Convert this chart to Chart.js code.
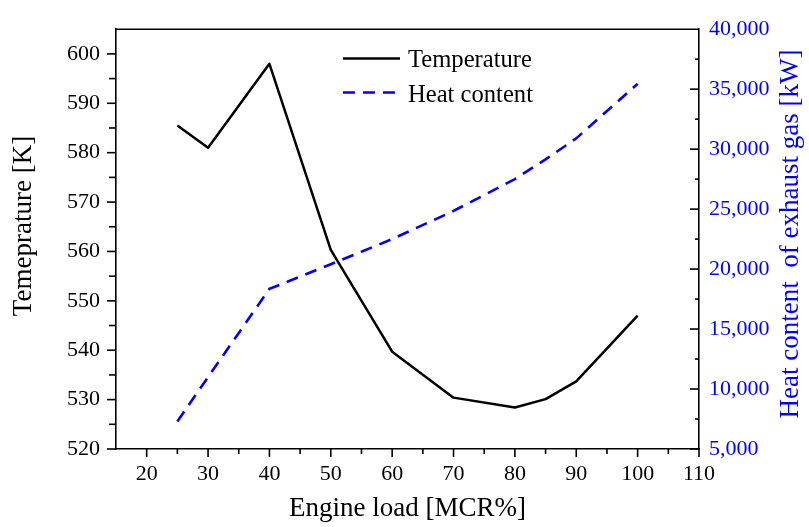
<!DOCTYPE html>
<html>
<head>
<meta charset="utf-8">
<title>Engine load vs exhaust gas</title>
<script src="https://cdn.jsdelivr.net/npm/chart.js@4.4.1/dist/chart.umd.min.js"></script>
<style>
  html, body { margin: 0; padding: 0; background: #fff; }
  #wrap { width: 809px; height: 527px; }
</style>
</head>
<body>
<div id="wrap"><canvas id="chartExhaust" width="809" height="527"></canvas></div>
<script>
/* Exhaust gas temperature and heat content over engine load */

const SERIF = "'Liberation Serif', 'Times New Roman', serif";
const BLUE  = '#0000ff';

// engine load [MCR%]
const loads       = [25, 30, 40, 50, 60, 70, 80, 85, 90, 100];
// exhaust temperature [K]
const temperature = [585.5, 581.0, 598.0, 560.3, 539.7, 530.4, 528.4, 530.1, 533.7, 547.0];
// heat content of exhaust gas [kW]
const heatContent = [7300, 11000, 18350, 20400, 22500, 24850, 27500, 29150, 30900, 35450];

const xTicks    = [20, 30, 40, 50, 60, 70, 80, 90, 100, 110];
const tempTicks = [520, 530, 540, 550, 560, 570, 580, 590, 600];
const heatTicks = [5000, 10000, 15000, 20000, 25000, 30000, 35000, 40000];

const toPoints = ys => loads.map((x, i) => ({ x, y: ys[i] }));

/* ---------- tick marks, frame, side titles, legend ---------- */
const decorations = {
  id: 'decorations',
  afterDraw(chart) {
    const { ctx, chartArea: a, scales } = chart;
    ctx.save();
    ctx.strokeStyle = '#000';
    ctx.lineWidth = 1.6;

    // top frame line
    ctx.beginPath();
    ctx.moveTo(a.left, a.top);
    ctx.lineTo(a.right, a.top);
    ctx.stroke();

    // bottom axis: outward ticks, major every 10
    scales.x.ticks.forEach(t => {
      if (t.value <= 15) return;
      const px = scales.x.getPixelForValue(t.value);
      const len = t.value % 10 === 0 ? 8 : 5;
      ctx.beginPath();
      ctx.moveTo(px, a.bottom);
      ctx.lineTo(px, a.bottom + len);
      ctx.stroke();
    });

    // left axis: outward ticks
    scales.y.ticks.forEach(t => {
      if (t.value > 600) return;
      const py = scales.y.getPixelForValue(t.value);
      const len = t.value % 10 === 0 ? 9 : 7;
      ctx.beginPath();
      ctx.moveTo(a.left, py);
      ctx.lineTo(a.left - len, py);
      ctx.stroke();
    });

    // right axis: inward ticks
    scales.y1.ticks.forEach(t => {
      if (t.value >= 40000) return;
      const py = scales.y1.getPixelForValue(t.value);
      const len = t.value % 5000 === 0 ? 9 : 4;
      ctx.beginPath();
      ctx.moveTo(a.right, py);
      ctx.lineTo(a.right - len, py);
      ctx.stroke();
    });

    // rotated axis titles
    ctx.textAlign = 'center';
    ctx.textBaseline = 'middle';
    ctx.font = '27px ' + SERIF;

    ctx.save();
    ctx.translate(24, 226);
    ctx.rotate(-Math.PI / 2);
    ctx.fillStyle = '#000';
    ctx.fillText('Temeprature [K]', 0, 0);
    ctx.restore();

    ctx.save();
    ctx.translate(791, 234);
    ctx.rotate(-Math.PI / 2);
    ctx.fillStyle = BLUE;
    ctx.fillText('Heat content  of exhaust gas [kW]', 0, 0);
    ctx.restore();

    // legend inside the plot
    ctx.font = '24.6px ' + SERIF;
    ctx.textAlign = 'left';
    ctx.textBaseline = 'alphabetic';
    const rows = [{ y: 58.5, base: 66.5 }, { y: 92.5, base: 102 }];
    chart.data.datasets.forEach((ds, i) => {
      const r = rows[i];
      ctx.strokeStyle = ds.borderColor;
      ctx.lineWidth = ds.borderWidth;
      ctx.setLineDash(ds.borderDash || []);
      ctx.beginPath();
      ctx.moveTo(343, r.y);
      ctx.lineTo(i === 0 ? 400 : 398, r.y);
      ctx.stroke();
      ctx.setLineDash([]);
      ctx.fillStyle = '#000';
      ctx.fillText(ds.label, 408, r.base);
    });
    ctx.restore();
  }
};

const tickFont = { family: SERIF, size: 22 };

new Chart(document.getElementById('chartExhaust'), {
  type: 'line',
  data: {
    datasets: [{
      label: 'Temperature',
      data: toPoints(temperature),
      yAxisID: 'y',
      borderColor: '#000',
      borderWidth: 2.5,
      pointRadius: 0,
      tension: 0,
      borderJoinStyle: 'round'
    }, {
      label: 'Heat content',
      data: toPoints(heatContent),
      yAxisID: 'y1',
      borderColor: BLUE,
      borderWidth: 2.6,
      borderDash: [12, 8],
      pointRadius: 0,
      tension: 0
    }]
  },
  options: {
    responsive: false,
    animation: false,
    layout: { padding: { top: 19, left: 0, right: 0, bottom: 0 } },
    plugins: {
      legend: { display: false },
      tooltip: { enabled: false }
    },
    scales: {
      x: {
        type: 'linear',
        min: 15, max: 110,
        afterFit: s => { s.height = 78; },
        grid: { display: false, drawTicks: false },
        border: { display: true, color: '#000', width: 1.6 },
        ticks: {
          stepSize: 5, autoSkip: false, maxRotation: 0, padding: 12,
          color: '#000', font: tickFont,
          callback: v => xTicks.includes(v) ? String(v) : ''
        },
        title: {
          display: true, text: 'Engine load [MCR%]', color: '#000',
          font: { family: SERIF, size: 27 }, padding: { top: 0, bottom: 2 }
        }
      },
      y: {
        position: 'left',
        min: 520, max: 605,
        afterFit: s => { s.width = 116; },
        grid: { display: false, drawTicks: false },
        border: { display: true, color: '#000', width: 1.6 },
        ticks: {
          stepSize: 5, autoSkip: false, padding: 16,
          color: '#000', font: tickFont,
          callback: v => tempTicks.includes(v) ? String(v) : ''
        }
      },
      y1: {
        position: 'right',
        min: 5000, max: 40000,
        afterFit: s => { s.width = 110; },
        grid: { display: false, drawTicks: false },
        border: { display: true, color: '#000', width: 1.6 },
        ticks: {
          stepSize: 2500, autoSkip: false, padding: 10,
          color: BLUE, font: tickFont,
          callback: v => heatTicks.includes(v) ? v.toLocaleString('en-US') : ''
        }
      }
    }
  },
  plugins: [decorations]
});
</script>
</body>
</html>
